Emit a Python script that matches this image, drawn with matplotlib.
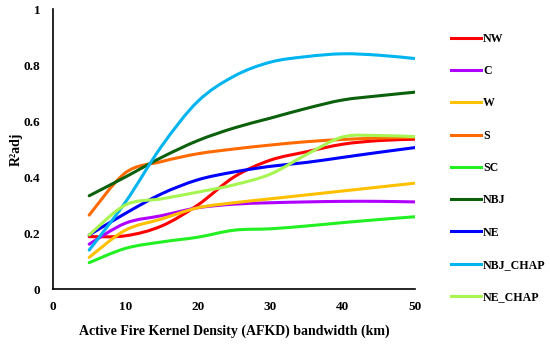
import matplotlib
matplotlib.use("Agg")
import matplotlib.pyplot as plt
from matplotlib.path import Path
from matplotlib.patches import PathPatch
from matplotlib.lines import Line2D
import numpy as np

bandwidth = [5, 10, 15, 20, 25, 30, 35, 40, 45, 50]
NW = [0.187, 0.19, 0.225, 0.30, 0.40, 0.46, 0.49, 0.517, 0.53, 0.535]
C = [0.16, 0.235, 0.262, 0.29, 0.303, 0.308, 0.311, 0.313, 0.313, 0.311]
W = [0.113, 0.21, 0.25, 0.29, 0.308, 0.322, 0.336, 0.35, 0.364, 0.378]
S = [0.264, 0.415, 0.455, 0.483, 0.50, 0.514, 0.526, 0.534, 0.539, 0.542]
SC = [0.094, 0.145, 0.168, 0.185, 0.21, 0.215, 0.225, 0.237, 0.248, 0.258]
NBJ = [0.333, 0.40, 0.47, 0.53, 0.575, 0.61, 0.645, 0.675, 0.69, 0.703]
NE = [0.193, 0.27, 0.34, 0.39, 0.418, 0.438, 0.452, 0.47, 0.488, 0.505]
NBJ_CHAP = [0.139, 0.31, 0.51, 0.67, 0.76, 0.81, 0.83, 0.84, 0.835, 0.823]
NE_CHAP = [0.193, 0.30, 0.322, 0.346, 0.372, 0.41, 0.48, 0.543, 0.548, 0.544]

names = ["NW", "C", "W", "S", "SC", "NBJ", "NE", "NBJ_CHAP", "NE_CHAP"]
series = [NW, C, W, S, SC, NBJ, NE, NBJ_CHAP, NE_CHAP]
colors = ["#FF0000", "#B000FF", "#FFC000", "#FF6A00", "#22F022",
          "#0B600B", "#0000FF", "#00B4F0", "#A6F550"]

x_ticks = [0, 10, 20, 30, 40, 50]
y_ticks = [0, 0.2, 0.4, 0.6, 0.8, 1]
y_ticklabels = ["0", "0.2", "0.4", "0.6", "0.8", "1"]

FONT = "Liberation Serif"

fig = plt.figure(figsize=(5.5, 3.45), dpi=100)
ax = fig.add_axes([53 / 550, 1 - 289 / 345, (415 - 53) / 550, (289 - 9) / 345])


def smooth_path(xs, ys):
    pts = np.column_stack([xs, ys]).astype(float)
    n = len(pts)
    verts = [pts[0]]
    codes = [Path.MOVETO]
    for i in range(n - 1):
        p0 = pts[i - 1] if i > 0 else pts[i]
        p1 = pts[i]
        p2 = pts[i + 1]
        p3 = pts[i + 2] if i + 2 < n else pts[i + 1]
        c1 = p1 + (p2 - p0) / 6.0
        c2 = p2 - (p3 - p1) / 6.0
        verts += [c1, c2, p2]
        codes += [Path.CURVE4] * 3
    return Path(verts, codes)


handles = []
for name, vals, col in zip(names, series, colors):
    patch = PathPatch(smooth_path(bandwidth, vals), facecolor="none",
                      edgecolor=col, lw=2.2, capstyle="round", joinstyle="round")
    ax.add_patch(patch)
    handles.append(Line2D([], [], color=col, lw=2.2, label=name))

ax.set_xlim(0, 50)
ax.set_ylim(0, 1)
ax.set_xticks(x_ticks)
ax.set_yticks(y_ticks)
ax.set_yticklabels(y_ticklabels)
ax.tick_params(length=0, pad=9, labelsize=9.5)
for lbl in ax.get_xticklabels() + ax.get_yticklabels():
    lbl.set_fontfamily(FONT)
    lbl.set_fontweight("bold")
for sp in ["top", "right"]:
    ax.spines[sp].set_visible(False)
for sp in ["left", "bottom"]:
    ax.spines[sp].set_linewidth(1.2)
    ax.spines[sp].set_color("black")

ax.set_xlabel("Active Fire Kernel Density (AFKD) bandwidth (km)",
              fontfamily=FONT, fontweight="bold", fontsize=10, labelpad=8)
ax.set_ylabel("R²adj", fontfamily=FONT, fontweight="bold", fontsize=10, labelpad=1)

leg = fig.legend(handles=handles, loc="upper left", bbox_to_anchor=(446 / 550, 1 - 28 / 345),
                 frameon=False, handlelength=2.5, handletextpad=0.2,
                 labelspacing=1.7, borderaxespad=0, borderpad=0.4,
                 prop={"family": FONT, "weight": "bold", "size": 8.6})

fig.savefig("out.png", dpi=100)
